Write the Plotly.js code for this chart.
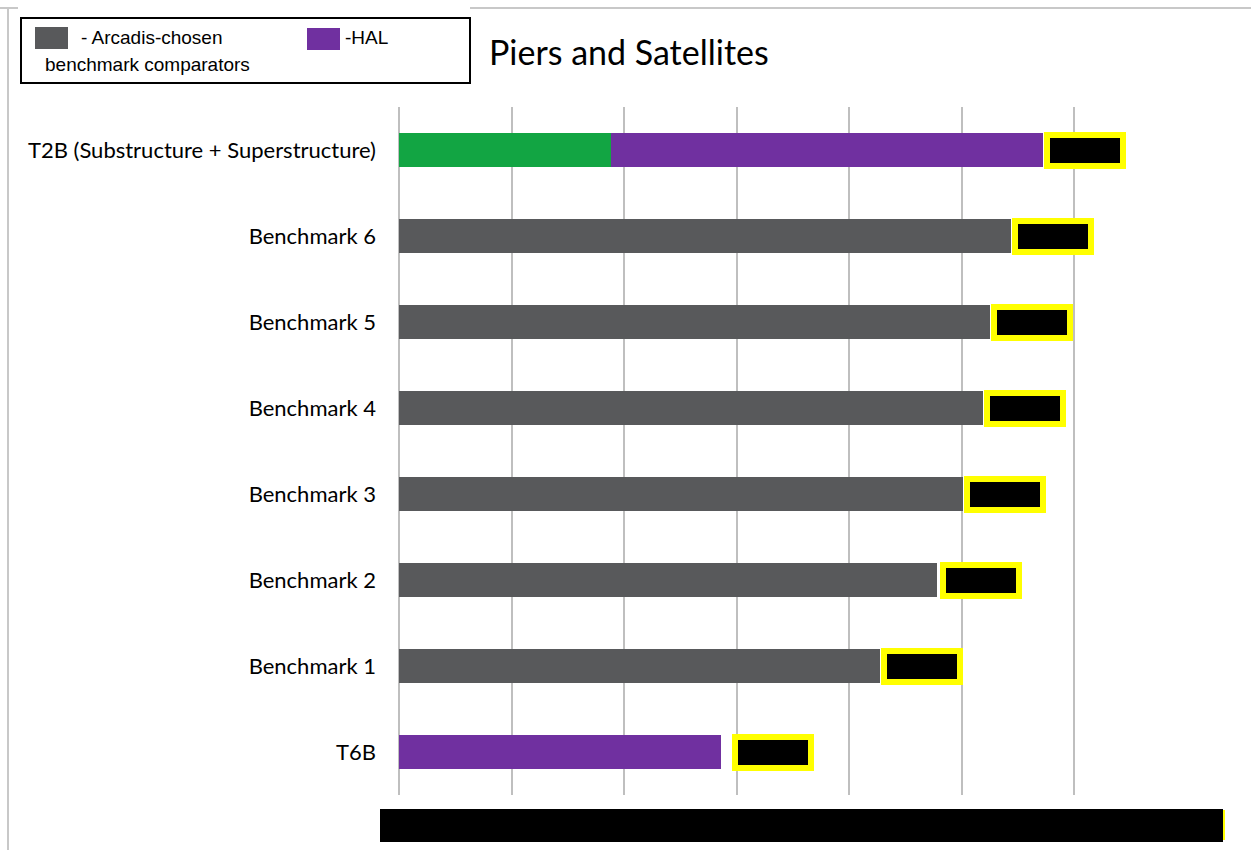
<!DOCTYPE html>
<html>
<head>
<meta charset="utf-8">
<script src="https://cdn.plot.ly/plotly-3.0.1.min.js"></script>
<style>
  html, body { margin: 0; padding: 0; background: #ffffff; }
  #chart { width: 1251px; height: 850px; }
</style>
</head>
<body>
<div id="chart"></div>
<script>
// Categories, top to bottom
const categories = [
  'T2B (Substructure + Superstructure)',
  'Benchmark 6',
  'Benchmark 5',
  'Benchmark 4',
  'Benchmark 3',
  'Benchmark 2',
  'Benchmark 1',
  'T6B'
];

// T2B split: substructure (green) + superstructure (purple)
const t2bSubCategories = ['T2B (Substructure + Superstructure)'];
const t2bSubValues = [1.88];

// HAL schemes (purple)
const halCategories = ['T2B (Substructure + Superstructure)', 'T6B'];
const halValues = [3.84, 2.86];

// Arcadis-chosen benchmark comparators (grey)
const benchCategories = ['Benchmark 6', 'Benchmark 5', 'Benchmark 4', 'Benchmark 3', 'Benchmark 2', 'Benchmark 1'];
const benchValues = [5.44, 5.25, 5.19, 5.01, 4.78, 4.27];

const GREY = '#58595B';
const PURPLE = '#7030A0';
const GREEN = '#12A543';
const GRID = '#BFBFBF';

// Gap (px) between a bar's end and its value label
const labelGap = { 'Benchmark 2': 3, 'T6B': 11 };

// Plot area in pixels, used to place the legend box and redaction strips
const W = 1251, H = 850;
const M = { l: 399, r: 64, t: 107, b: 55 };
const plotW = W - M.l - M.r;
const plotH = H - M.t - M.b;
const px = v => (v - M.l) / plotW;
const py = v => (H - M.b - v) / plotH;

// Totals per category for the value labels
const totals = {};
categories.forEach(c => { totals[c] = 0; });
t2bSubCategories.forEach((c, i) => { totals[c] += t2bSubValues[i]; });
halCategories.forEach((c, i) => { totals[c] += halValues[i]; });
benchCategories.forEach((c, i) => { totals[c] += benchValues[i]; });

const traces = [
  {
    type: 'bar', orientation: 'h', name: 'Substructure',
    y: t2bSubCategories, x: t2bSubValues,
    marker: { color: GREEN }, hoverinfo: 'skip'
  },
  {
    type: 'bar', orientation: 'h', name: '-HAL',
    y: halCategories, x: halValues,
    marker: { color: PURPLE }, hoverinfo: 'skip'
  },
  {
    type: 'bar', orientation: 'h', name: '- Arcadis-chosen benchmark comparators',
    y: benchCategories, x: benchValues,
    marker: { color: GREY }, hoverinfo: 'skip'
  }
];

// Value labels, blacked out on a yellow frame
const valueLabels = categories.map(c => ({
  x: totals[c], y: c, xref: 'x', yref: 'y',
  xanchor: 'left', yanchor: 'middle', xshift: labelGap[c] || 1,
  text: totals[c].toFixed(2), showarrow: false,
  font: { family: 'Liberation Sans', size: 13, color: '#000000' },
  bgcolor: '#000000', bordercolor: '#FFFF00', borderwidth: 6, borderpad: 0,
  width: 70, height: 25, align: 'center'
}));

const legendLabels = [
  { x: px(80), y: py(37), text: '- Arcadis-chosen' },
  { x: px(44), y: py(65), text: 'benchmark comparators' },
  { x: px(344), y: py(37), text: '-HAL' }
].map(a => Object.assign({
  xref: 'paper', yref: 'paper', xanchor: 'left', yanchor: 'middle',
  showarrow: false, borderpad: 0,
  font: { family: 'Liberation Sans, Arial, sans-serif', size: 19, color: '#000000' }
}, a));

const shapes = [
  // outer frame fragments
  { type: 'line', xref: 'paper', yref: 'paper', x0: px(8), x1: px(8), y0: py(8), y1: py(850),
    line: { color: '#C8C8C8', width: 2 } },
  { type: 'line', xref: 'paper', yref: 'paper', x0: px(0), x1: px(18), y0: py(8), y1: py(8),
    line: { color: '#C8C8C8', width: 2 } },
  { type: 'line', xref: 'paper', yref: 'paper', x0: px(470), x1: px(1251), y0: py(8), y1: py(8),
    line: { color: '#C8C8C8', width: 2 } },
  // legend box
  { type: 'rect', xref: 'paper', yref: 'paper', x0: px(21), x1: px(470), y0: py(83), y1: py(18),
    line: { color: '#000000', width: 2 }, fillcolor: '#FFFFFF' },
  { type: 'rect', xref: 'paper', yref: 'paper', x0: px(35), x1: px(68), y0: py(49), y1: py(27),
    line: { width: 0 }, fillcolor: GREY },
  { type: 'rect', xref: 'paper', yref: 'paper', x0: px(307), x1: px(340), y0: py(50), y1: py(28),
    line: { width: 0 }, fillcolor: PURPLE },
  // redacted axis labels
  { type: 'rect', xref: 'paper', yref: 'paper', x0: px(380), x1: px(1225), y0: py(840), y1: py(810),
    line: { width: 0 }, fillcolor: '#FFFF00' },
  { type: 'rect', xref: 'paper', yref: 'paper', x0: px(380), x1: px(1223), y0: py(842), y1: py(809),
    line: { width: 0 }, fillcolor: '#000000' }
];

const layout = {
  width: W, height: H,
  margin: M,
  paper_bgcolor: '#FFFFFF', plot_bgcolor: '#FFFFFF',
  barmode: 'stack', bargap: 0.6,
  showlegend: false,
  title: {
    text: 'Piers and Satellites',
    xref: 'container', yref: 'container',
    x: 489 / W, xanchor: 'left',
    y: 1 - 53 / H, yanchor: 'middle',
    font: { family: 'Lato, sans-serif', size: 34, color: '#000000' }
  },
  xaxis: {
    range: [0, 7], dtick: 1, tick0: 0,
    showgrid: true, gridcolor: GRID, gridwidth: 2,
    zeroline: true, zerolinecolor: GRID, zerolinewidth: 2,
    showline: false, ticks: '', showticklabels: false, fixedrange: true
  },
  yaxis: {
    type: 'category', categoryorder: 'array', categoryarray: categories,
    autorange: 'reversed',
    showgrid: false, zeroline: false, showline: false, ticks: '',
    ticklabelstandoff: 22,
    tickfont: { family: 'Lato, sans-serif', size: 22, color: '#000000' },
    fixedrange: true
  },
  annotations: valueLabels.concat(legendLabels),
  shapes: shapes
};

Plotly.newPlot('chart', traces, layout, { staticPlot: true, displayModeBar: false });
</script>
</body>
</html>
